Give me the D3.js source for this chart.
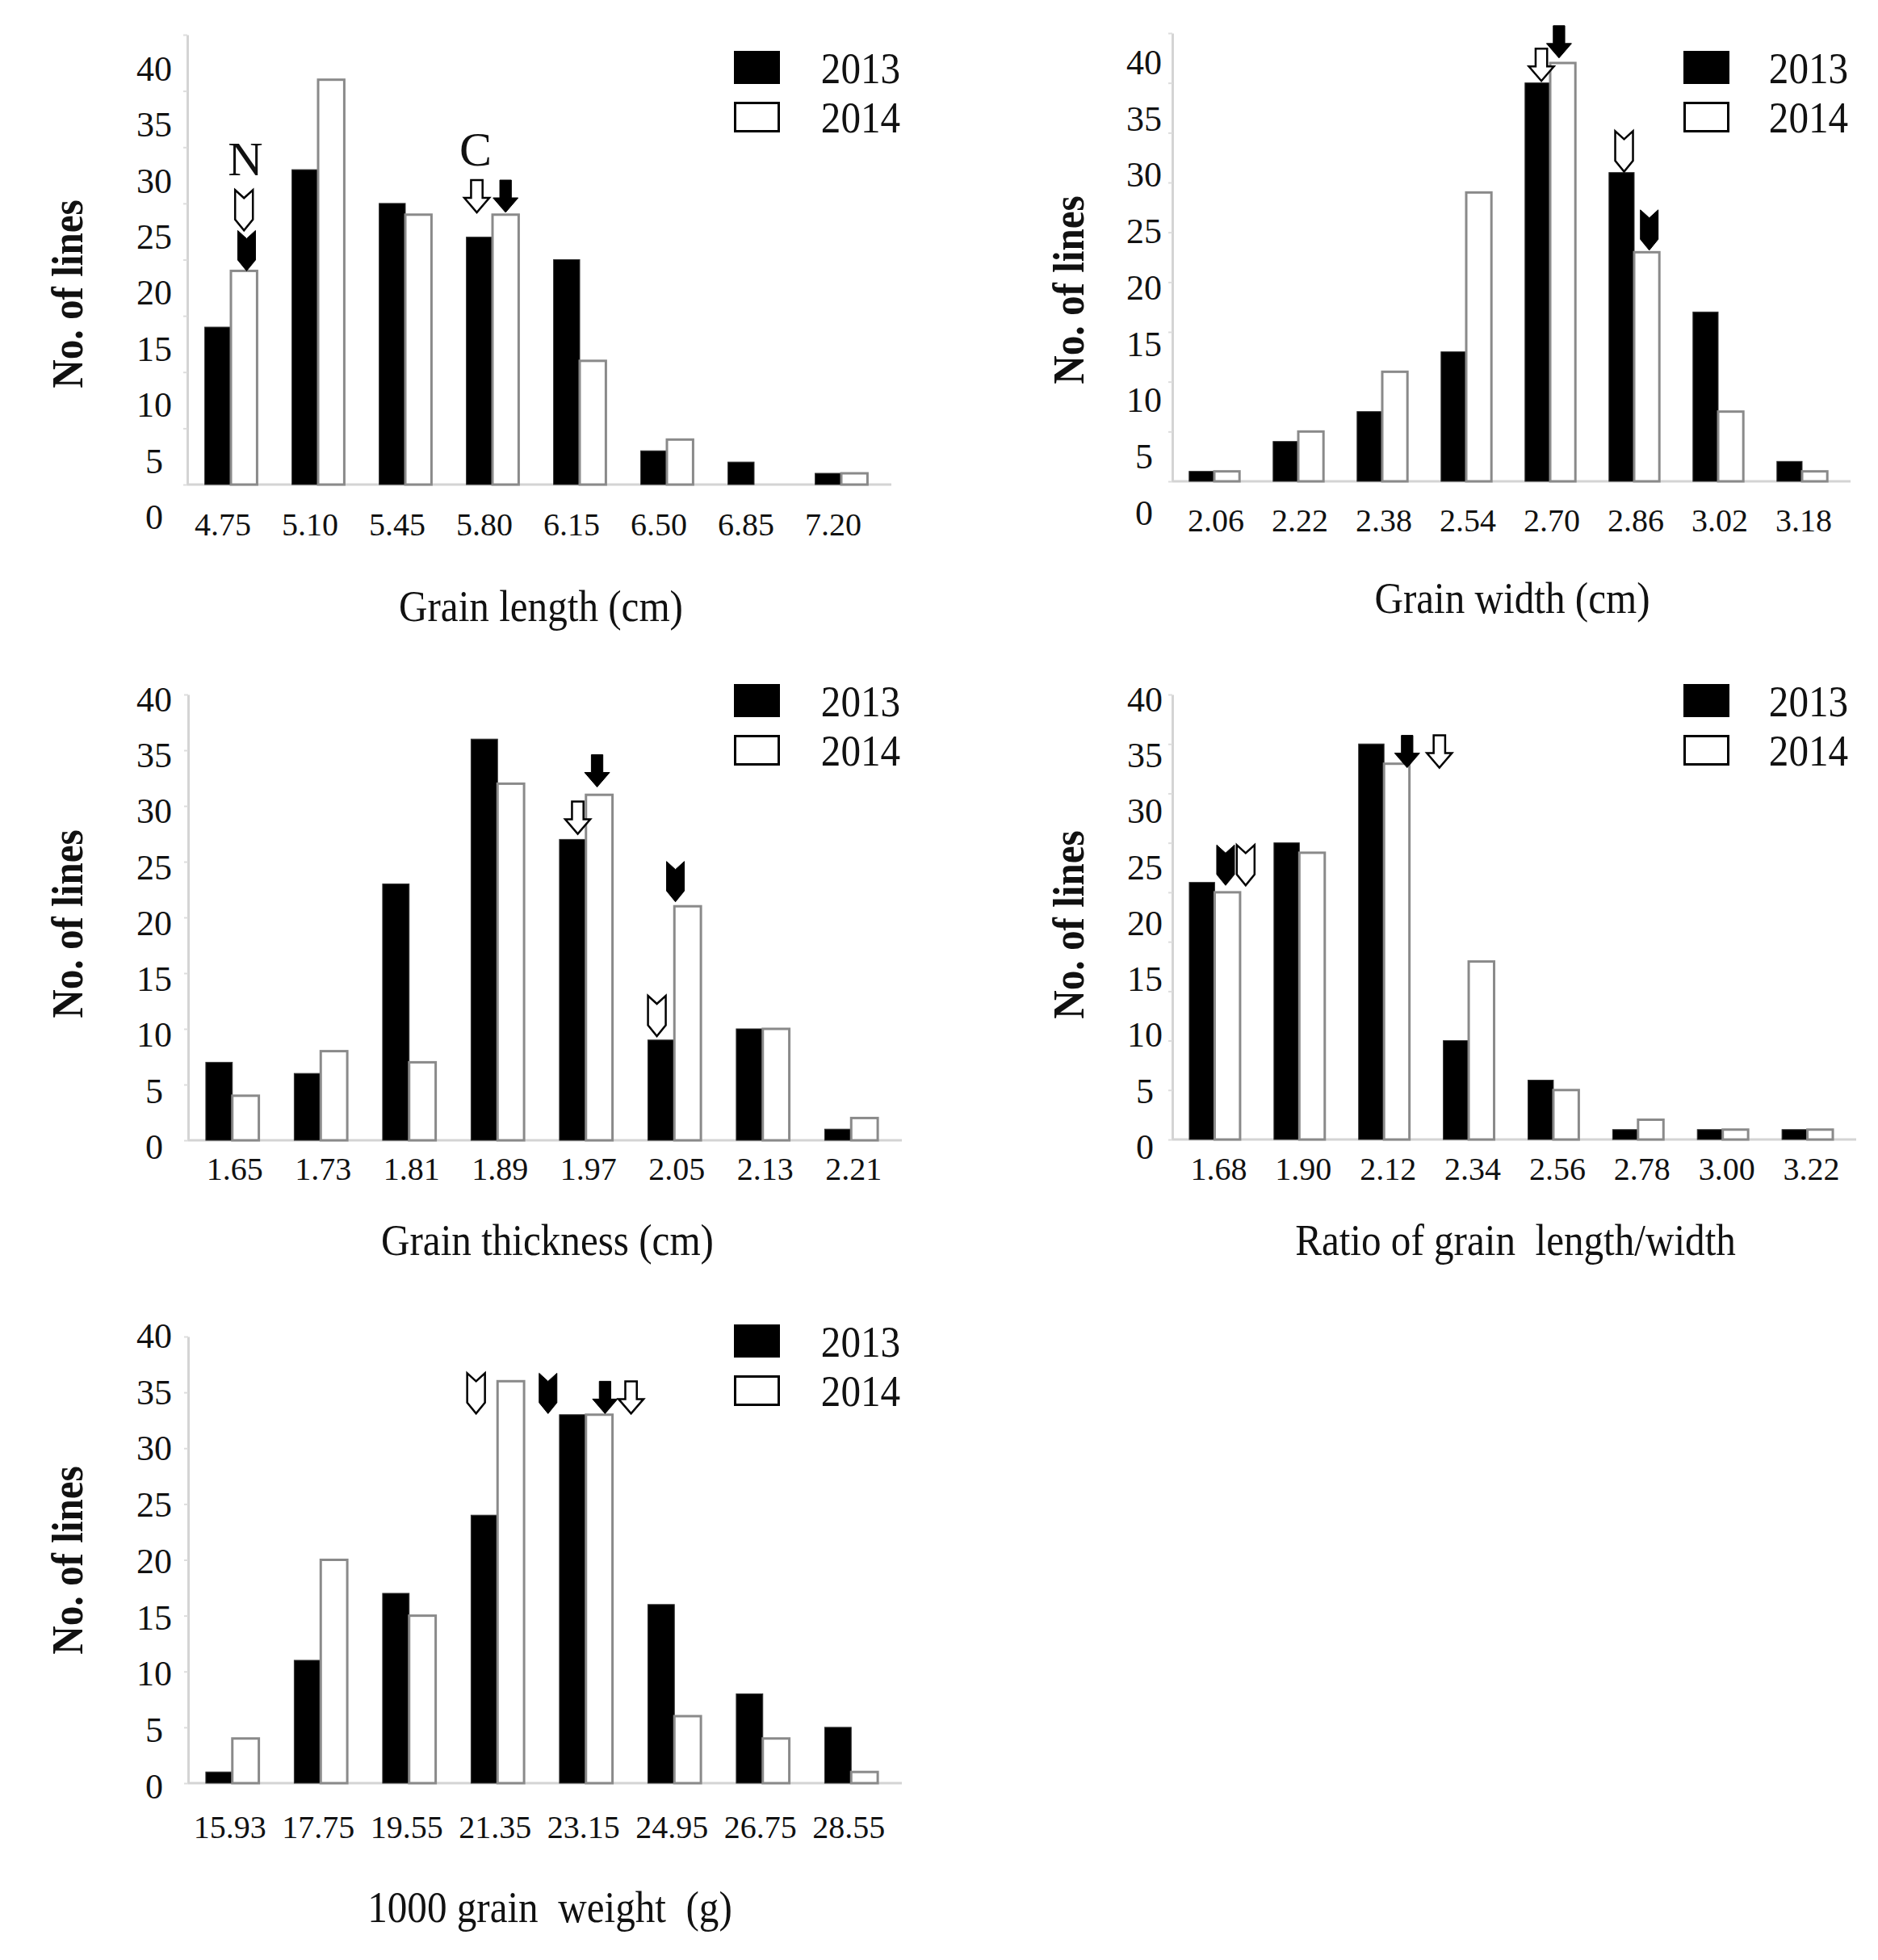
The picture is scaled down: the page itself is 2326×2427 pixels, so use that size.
<!DOCTYPE html>
<html>
<head>
<meta charset="utf-8">
<script src="https://cdn.jsdelivr.net/npm/d3@7"></script>
<style>
  html, body { margin: 0; padding: 0; background: #fff; }
  svg text { font-family: "Liberation Serif", "Times New Roman", serif; fill: #111; }
  .cond { transform-box: fill-box; transform-origin: center; transform: scaleX(0.91); }
</style>
</head>
<body>
<svg id="svg" width="2326" height="2427"></svg>
<script>
// ---- data ----
var years = ["2013", "2014"];
var yTicks = [0, 5, 10, 15, 20, 25, 30, 35, 40];

var lengthCats = ["4.75", "5.10", "5.45", "5.80", "6.15", "6.50", "6.85", "7.20"];
var length2013 = [14, 28, 25, 22, 20, 3, 2, 1];
var length2014 = [19, 36, 24, 24, 11, 4, 0, 1];

var widthCats = ["2.06", "2.22", "2.38", "2.54", "2.70", "2.86", "3.02", "3.18"];
var width2013 = [1, 4, 7, 13, 40, 31, 17, 2];
var width2014 = [1, 5, 11, 29, 42, 23, 7, 1];

var thickCats = ["1.65", "1.73", "1.81", "1.89", "1.97", "2.05", "2.13", "2.21"];
var thick2013 = [7, 6, 23, 36, 27, 9, 10, 1];
var thick2014 = [4, 8, 7, 32, 31, 21, 10, 2];

var ratioCats = ["1.68", "1.90", "2.12", "2.34", "2.56", "2.78", "3.00", "3.22"];
var ratio2013 = [26, 30, 40, 10, 6, 1, 1, 1];
var ratio2014 = [25, 29, 38, 18, 5, 2, 1, 1];

var weightCats = ["15.93", "17.75", "19.55", "21.35", "23.15", "24.95", "26.75", "28.55"];
var weight2013 = [1, 11, 17, 24, 33, 16, 8, 5];
var weight2014 = [4, 20, 15, 36, 33, 6, 4, 1];

// parent arrows: parent N = notched arrow, parent C = block arrow
// slot: 0 = over the 2013 bar, 1 = over the 2014 bar
var lengthMarks = [
  {parent: "N", year: "2014", cat: "4.75", slot: 1.0, tip: 22.6},
  {parent: "N", year: "2013", cat: "4.75", slot: 1.1, tip: 19.0},
  {parent: "C", year: "2014", cat: "5.80", slot: -0.1, tip: 24.2},
  {parent: "C", year: "2013", cat: "5.80", slot: 1.0, tip: 24.2}
];
var lengthNotes = [
  {cat: "4.75", slot: 1.05, at: 29.0, text: "N"},
  {cat: "5.80", slot: -0.15, at: 29.9, text: "C"}
];
var widthMarks = [
  {parent: "C", year: "2014", cat: "2.70", slot: 0.15, tip: 40.2},
  {parent: "C", year: "2013", cat: "2.70", slot: 0.85, tip: 42.5},
  {parent: "N", year: "2014", cat: "2.86", slot: 0.1, tip: 31.1},
  {parent: "N", year: "2013", cat: "2.86", slot: 1.1, tip: 23.2}
];
var thickMarks = [
  {parent: "C", year: "2013", cat: "1.97", slot: 0.92, tip: 31.7},
  {parent: "C", year: "2014", cat: "1.97", slot: 0.19, tip: 27.5},
  {parent: "N", year: "2013", cat: "2.05", slot: 0.54, tip: 21.4},
  {parent: "N", year: "2014", cat: "2.05", slot: -0.16, tip: 9.35}
];
var ratioMarks = [
  {parent: "N", year: "2013", cat: "1.68", slot: 0.93, tip: 25.7},
  {parent: "N", year: "2014", cat: "1.68", slot: 1.72, tip: 25.7},
  {parent: "C", year: "2013", cat: "2.12", slot: 1.41, tip: 37.6},
  {parent: "C", year: "2014", cat: "2.12", slot: 2.68, tip: 37.6}
];
var weightMarks = [
  {parent: "N", year: "2014", cat: "21.35", slot: -0.31, tip: 33.1},
  {parent: "N", year: "2013", cat: "23.15", slot: -0.93, tip: 33.1},
  {parent: "C", year: "2013", cat: "23.15", slot: 1.22, tip: 33.1},
  {parent: "C", year: "2014", cat: "23.15", slot: 2.2, tip: 33.1}
];

var svg = d3.select("#svg");
svg.append("rect").attr("width", 2326).attr("height", 2427).attr("fill", "#fff");

// block arrow, origin at top centre
function blockPath(w, h) {
  var s = w * 0.23, hs = h * 0.55;
  return "M" + (-s) + ",0H" + s + "V" + hs + "H" + (w / 2) + "L0," + h +
         "L" + (-w / 2) + "," + hs + "H" + (-s) + "Z";
}
// notched arrow, origin at top centre
function notchPath(w, h) {
  var n = h * 0.2, hd = h * 0.27;
  return "M" + (-w / 2) + ",0L0," + n + "L" + (w / 2) + ",0V" + (h - hd) +
         "L0," + h + "L" + (-w / 2) + "," + (h - hd) + "Z";
}

function drawPanel(cfg) {
  var g = svg.append("g");

  var x0 = d3.scaleBand().domain(cfg.cats).range([cfg.x0, cfg.x1]);
  var bw = x0.bandwidth();
  var xs = d3.scaleBand().domain(years).range([bw * 0.2, bw * 0.8]);
  var y = d3.scaleLinear().domain([0, cfg.max]).range([cfg.base, cfg.top]);
  // the printed tick labels do not sit exactly on the ticks
  var yLab = d3.scaleLinear().domain([0, 40]).range([cfg.lab0, cfg.lab40]);

  // y axis line with faint ticks
  g.append("g")
    .attr("transform", "translate(" + cfg.x0 + ",0)")
    .call(d3.axisLeft(y).tickValues(d3.range(0, cfg.max + 1, 5)).tickSize(5).tickSizeOuter(0).tickFormat(""))
    .call(function(a) {
      a.select(".domain").attr("stroke", "#d4d4d4").attr("stroke-width", 3);
      a.selectAll(".tick line").attr("stroke", "#dddddd").attr("stroke-width", 2);
    });

  // baseline
  g.append("line")
    .attr("x1", cfg.x0).attr("x2", cfg.x1 + 8)
    .attr("y1", y(0)).attr("y2", y(0))
    .attr("stroke", "#d4d4d4").attr("stroke-width", 3);

  // y tick labels
  g.append("g")
    .attr("transform", "translate(" + cfg.labX + ",0)")
    .call(d3.axisLeft(yLab).tickValues(yTicks).tickSize(0))
    .call(function(a) {
      a.select(".domain").remove();
      a.selectAll("text")
        .attr("x", 0).attr("dy", "0.35em")
        .attr("text-anchor", "middle")
        .style("font-size", "44px");
    });

  // x tick labels
  g.append("g")
    .attr("transform", "translate(0," + cfg.xLabY + ")")
    .call(d3.axisBottom(x0).tickSize(0))
    .call(function(a) {
      a.select(".domain").remove();
      a.selectAll("text")
        .attr("y", 0).attr("dy", "0.35em").attr("dx", cfg.xLabDx)
        .style("font-size", "40px");
    });

  // bars
  var rows = cfg.cats.map(function(c, i) {
    return {cat: c, vals: [cfg.a[i], cfg.b[i]]};
  });
  g.selectAll(".grp")
    .data(rows)
    .enter()
    .append("g")
    .attr("class", "grp")
    .attr("transform", function(d) { return "translate(" + x0(d.cat) + ",0)"; })
    .selectAll("rect")
    .data(function(d) {
      return years.map(function(yr, j) { return {yr: yr, v: d.vals[j]}; })
                  .filter(function(e) { return e.v > 0; });
    })
    .enter()
    .append("rect")
    .attr("x", function(d) { return xs(d.yr); })
    .attr("y", function(d) { return y(d.v); })
    .attr("width", xs.bandwidth())
    .attr("height", function(d) { return y(0) - y(d.v); })
    .attr("fill", function(d) { return d.yr === "2013" ? "#000" : "#fff"; })
    .attr("stroke", function(d) { return d.yr === "2013" ? "#333" : "#8a8a8a"; })
    .attr("stroke-width", function(d) { return d.yr === "2013" ? 1 : 3; });

  // parent arrows
  function slotX(d) { return x0(d.cat) + xs(years[0]) + xs.bandwidth() * (d.slot + 0.5); }
  g.selectAll(".mark")
    .data(cfg.marks)
    .enter()
    .append("path")
    .attr("class", "mark")
    .attr("d", function(d) { return d.parent === "C" ? blockPath(31, 40) : notchPath(22, 50); })
    .attr("transform", function(d) {
      var h = d.parent === "C" ? 40 : 50;
      return "translate(" + slotX(d) + "," + (y(d.tip) - h) + ")";
    })
    .attr("fill", function(d) { return d.year === "2013" ? "#000" : "#fff"; })
    .attr("stroke", "#000")
    .attr("stroke-width", function(d) { return d.year === "2013" ? 1 : 2.5; });

  g.selectAll(".note")
    .data(cfg.notes || [])
    .enter()
    .append("text")
    .attr("class", "note")
    .attr("x", slotX)
    .attr("y", function(d) { return y(d.at); })
    .attr("dy", "0.35em")
    .attr("text-anchor", "middle")
    .style("font-size", "60px")
    .text(function(d) { return d.text; });

  // legend
  g.append("rect")
    .attr("x", cfg.legX).attr("y", cfg.legY)
    .attr("width", 57).attr("height", 41)
    .attr("fill", "#000");
  g.append("rect")
    .attr("x", cfg.legX + 1.5).attr("y", cfg.legY + 64.5)
    .attr("width", 54).attr("height", 35)
    .attr("fill", "#fff").attr("stroke", "#000").attr("stroke-width", 3);
  g.selectAll(".leg")
    .data(years)
    .enter()
    .append("text")
    .attr("class", "leg cond")
    .attr("x", cfg.legTextX)
    .attr("y", function(d, i) { return cfg.legY + 21 + i * 61; })
    .attr("dy", "0.35em")
    .attr("text-anchor", "middle")
    .style("font-size", "54px")
    .text(function(d) { return d; });

  // axis titles
  g.append("text")
    .attr("class", "cond")
    .attr("x", cfg.titleX).attr("y", cfg.titleY)
    .attr("text-anchor", "middle")
    .style("font-size", "54px")
    .style("white-space", "pre")
    .text(cfg.title);

  g.append("g")
    .attr("transform", "translate(" + cfg.yTitleX + "," + cfg.yTitleY + ")rotate(-90)")
    .append("text")
    .attr("class", "cond")
    .attr("text-anchor", "middle")
    .attr("dy", "0.35em")
    .style("font-size", "54px")
    .style("font-weight", "bold")
    .text("No. of lines");
}

drawPanel({cats: lengthCats, a: length2013, b: length2014, marks: lengthMarks, notes: lengthNotes,
  title: "Grain length (cm)",
  x0: 232, x1: 1096, base: 600, top: 43, max: 40, lab0: 639, lab40: 84, labX: 191,
  xLabY: 649, xLabDx: -10, titleX: 670, titleY: 769, yTitleX: 83, yTitleY: 364,
  legX: 909, legY: 63, legTextX: 1066});

drawPanel({cats: widthCats, a: width2013, b: width2014, marks: widthMarks,
  title: "Grain width (cm)",
  x0: 1452, x1: 2284, base: 596, top: 41, max: 45, lab0: 634, lab40: 76, labX: 1417,
  xLabY: 644, xLabDx: 2, titleX: 1873, titleY: 759, yTitleX: 1323, yTitleY: 359,
  legX: 2085, legY: 63, legTextX: 2240});

drawPanel({cats: thickCats, a: thick2013, b: thick2014, marks: thickMarks,
  title: "Grain thickness (cm)",
  x0: 233, x1: 1109, base: 1412, top: 860, max: 40, lab0: 1419, lab40: 865, labX: 191,
  xLabY: 1447, xLabDx: 3, titleX: 678, titleY: 1554, yTitleX: 83, yTitleY: 1144,
  legX: 909, legY: 847, legTextX: 1066});

drawPanel({cats: ratioCats, a: ratio2013, b: ratio2014, marks: ratioMarks,
  title: "Ratio of grain  length/width",
  x0: 1452, x1: 2291, base: 1411, top: 860, max: 45, lab0: 1419, lab40: 865, labX: 1418,
  xLabY: 1447, xLabDx: 5, titleX: 1877, titleY: 1554, yTitleX: 1323, yTitleY: 1145,
  legX: 2085, legY: 847, legTextX: 2240});

drawPanel({cats: weightCats, a: weight2013, b: weight2014, marks: weightMarks,
  title: "1000 grain  weight  (g)",
  x0: 233, x1: 1109, base: 2208, top: 1655, max: 40, lab0: 2211, lab40: 1653, labX: 191,
  xLabY: 2262, xLabDx: -3, titleX: 681, titleY: 2380, yTitleX: 83, yTitleY: 1932,
  legX: 909, legY: 1640, legTextX: 1066});
</script>
</body>
</html>
